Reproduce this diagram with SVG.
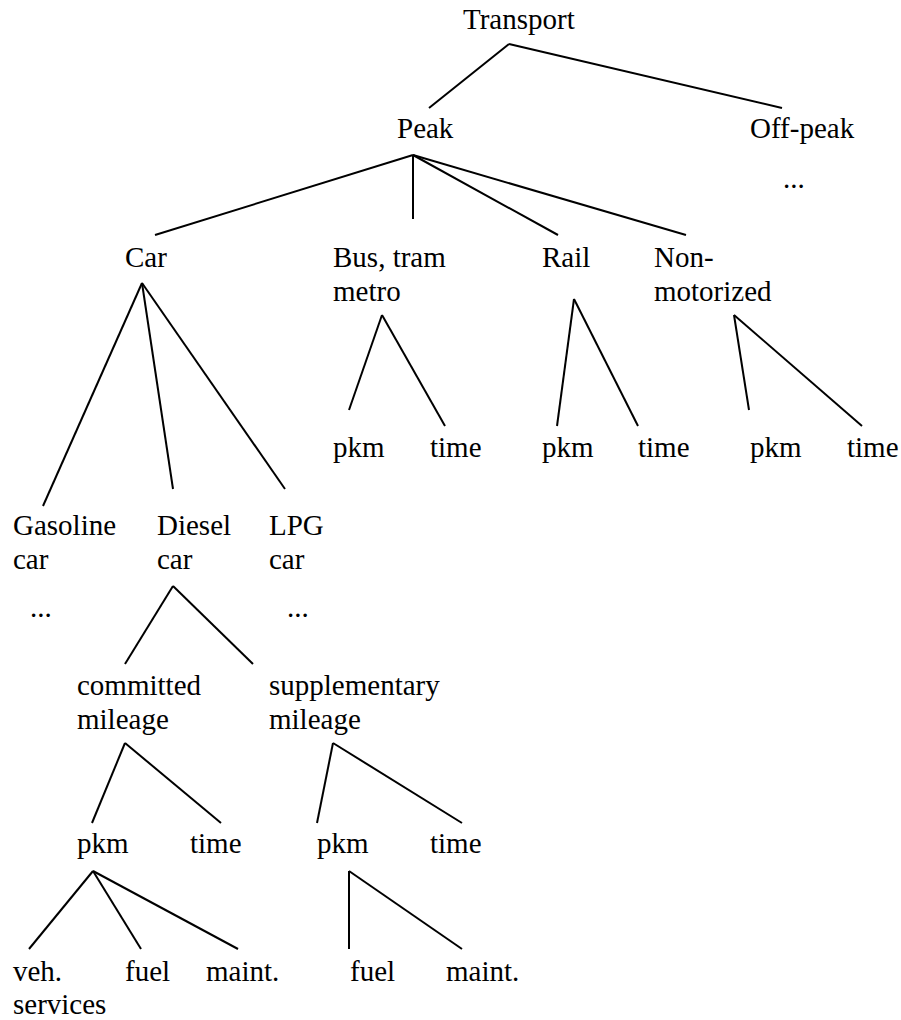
<svg xmlns="http://www.w3.org/2000/svg" width="901" height="1020" viewBox="0 0 901 1020">
<style>
text{font-family:"Liberation Serif","Times New Roman",serif;font-size:29px;fill:#000}
.c line{stroke:#000;stroke-width:2;stroke-linecap:butt}
</style>
<rect width="901" height="1020" fill="#fff"/>
<g class="c" id="connectors">
<line x1="509" y1="44" x2="429" y2="108"/>
<line x1="509" y1="44" x2="782" y2="108"/>
<line x1="413" y1="155" x2="155" y2="235"/>
<line x1="413" y1="155" x2="413" y2="219"/>
<line x1="413" y1="155" x2="558" y2="235"/>
<line x1="413" y1="155" x2="686" y2="235"/>
<line x1="142" y1="283" x2="43" y2="506"/>
<line x1="142" y1="283" x2="173" y2="489"/>
<line x1="142" y1="283" x2="285" y2="489"/>
<line x1="382" y1="315" x2="349" y2="410"/>
<line x1="382" y1="315" x2="445" y2="426"/>
<line x1="574" y1="299" x2="557" y2="426"/>
<line x1="574" y1="299" x2="638" y2="426"/>
<line x1="734" y1="315" x2="749" y2="410"/>
<line x1="734" y1="315" x2="862" y2="426"/>
<line x1="173" y1="586" x2="125" y2="664"/>
<line x1="173" y1="586" x2="253" y2="664"/>
<line x1="125" y1="743" x2="92" y2="823"/>
<line x1="125" y1="743" x2="221" y2="823"/>
<line x1="333" y1="743" x2="317" y2="823"/>
<line x1="333" y1="743" x2="462" y2="823"/>
<line x1="93" y1="871" x2="29" y2="949"/>
<line x1="93" y1="871" x2="141" y2="949"/>
<line x1="93" y1="871" x2="238" y2="949"/>
<line x1="349" y1="871" x2="349" y2="949"/>
<line x1="349" y1="871" x2="462" y2="949"/>
</g>
<g id="transport"><text x="463" y="29">Transport</text></g>
<g id="peak"><text x="397" y="138">Peak</text></g>
<g id="offpeak"><text x="750" y="138">Off-peak</text><text x="783" y="188">...</text></g>
<g id="car"><text x="125" y="267">Car</text></g>
<g id="bus"><text x="333" y="267">Bus, tram</text><text x="333" y="301">metro</text></g>
<g id="rail"><text x="542" y="267">Rail</text></g>
<g id="nonmot"><text x="654" y="267">Non-</text><text x="654" y="301">motorized</text></g>
<g id="bus-pkm"><text x="333" y="457">pkm</text></g>
<g id="bus-time"><text x="430" y="457">time</text></g>
<g id="rail-pkm"><text x="542" y="457">pkm</text></g>
<g id="rail-time"><text x="638" y="457">time</text></g>
<g id="nm-pkm"><text x="750" y="457">pkm</text></g>
<g id="nm-time"><text x="847" y="457">time</text></g>
<g id="gasoline"><text x="13" y="535">Gasoline</text><text x="13" y="569">car</text><text x="30" y="617">...</text></g>
<g id="diesel"><text x="157" y="535">Diesel</text><text x="157" y="569">car</text></g>
<g id="lpg"><text x="269" y="535">LPG</text><text x="269" y="569">car</text><text x="287" y="617">...</text></g>
<g id="committed"><text x="77" y="695">committed</text><text x="77" y="729">mileage</text></g>
<g id="supplementary"><text x="269" y="695">supplementary</text><text x="269" y="729">mileage</text></g>
<g id="c-pkm"><text x="77" y="853">pkm</text></g>
<g id="c-time"><text x="190" y="853">time</text></g>
<g id="s-pkm"><text x="317" y="853">pkm</text></g>
<g id="s-time"><text x="430" y="853">time</text></g>
<g id="veh"><text x="13" y="981">veh.</text><text x="13" y="1014">services</text></g>
<g id="c-fuel"><text x="125" y="981">fuel</text></g>
<g id="c-maint"><text x="206" y="981">maint.</text></g>
<g id="s-fuel"><text x="350" y="981">fuel</text></g>
<g id="s-maint"><text x="446" y="981">maint.</text></g>
</svg>
